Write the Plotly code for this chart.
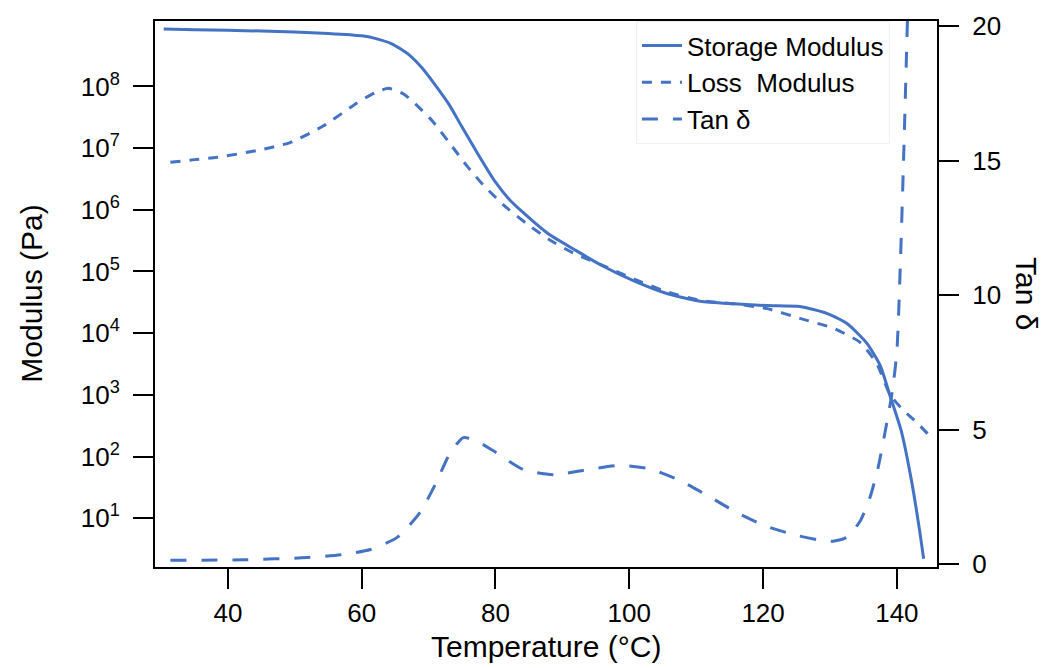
import plotly.graph_objects as go

# ---- data ----
storage_T = [30.4, 35, 40, 45, 50, 55, 60, 62, 64.5, 67, 69, 71, 73, 75, 77.5, 80, 82, 84.2, 88, 92,
             95.6, 100.6, 105.6, 110.6, 115.6, 120.6, 125.5, 129.5, 132.5, 135.5, 137.5, 139.0,
             140.7, 142.2, 143.4, 144.0]
storage_G = [8.5e8, 8.3e8, 8.1e8, 7.9e8, 7.6e8, 7.2e8, 6.6e8, 6.0e8, 4.9e8, 3.3e8, 2.0e8, 1.05e8,
             5.2e7, 2.2e7, 7.6e6, 2.8e6, 1.5e6, 8.9e5, 4.0e5, 2.2e5,
             1.3e5, 7.1e4, 4.4e4, 3.3e4, 3.0e4, 2.8e4, 2.7e4, 2.1e4, 1.45e4, 6.9e3, 3.0e3, 950,
             250, 40, 6.3, 2.2]

loss_T = [31.4, 35, 38.4, 44.3, 49.3, 54.3, 59.3, 62, 64, 66.2, 68, 70.5, 73, 75.7, 78.2, 81.7,
          85, 88, 92, 96, 100.6, 105.6, 110.6, 115.6, 120.6, 125.5, 130.5, 134.5, 137, 139,
          141, 143, 145.2]
loss_G = [5.9e6, 6.5e6, 7.1e6, 9.1e6, 1.23e7, 2.3e7, 5.4e7, 7.9e7, 9.3e7, 7.6e7, 5.2e7, 2.8e7,
          1.26e7, 5.2e6, 2.5e6, 1.07e6, 5.6e5, 3.3e5, 1.9e5, 1.26e5, 7.6e4, 4.7e4, 3.4e4, 3.0e4,
          2.5e4, 1.74e4, 1.2e4, 7.1e3, 3.2e3, 1.0e3, 560, 355, 200]

tan_T = [31.4, 42.3, 51.8, 57.3, 61.3, 65.3, 68.7, 71.0, 73.2, 75.2, 77.2, 79.5, 84.2, 88.9, 93.7,
         98.6, 103.1, 107.6, 111.8, 116.1, 120.3, 125.1, 128.3, 130.5, 132.5, 134.5, 136.0,
         137.2, 138.3, 139.3, 140.0, 140.5, 141.0, 141.5, 142.0]
tan_d = [0.15, 0.17, 0.25, 0.37, 0.55, 1.0, 1.92, 2.97, 4.13, 4.71, 4.58, 4.25, 3.52, 3.33, 3.52,
         3.68, 3.55, 3.11, 2.54, 1.92, 1.43, 1.07, 0.91, 0.86, 1.0, 1.6, 2.5,
         3.6, 5.0, 6.4, 7.9, 11.0, 15.0, 19.5, 24.0]

x_ticks = [40, 60, 80, 100, 120, 140]
y_ticks = [1e1, 1e2, 1e3, 1e4, 1e5, 1e6, 1e7, 1e8]
y_ticktext = ["10<sup>%d</sup>" % n for n in range(1, 9)]
y2_ticks = [0, 5, 10, 15, 20]

BLUE = "#4472C4"
FONT = "Liberation Sans, Arial, sans-serif"

fig = go.Figure()
fig.add_trace(go.Scatter(x=storage_T, y=storage_G, mode="lines", name="Storage Modulus",
                         line=dict(color=BLUE, width=3, shape="spline", smoothing=0.6)))
fig.add_trace(go.Scatter(x=loss_T, y=loss_G, mode="lines", name="Loss\u00a0 Modulus",
                         line=dict(color=BLUE, width=3, dash="10px,9px", shape="spline", smoothing=0.6)))
fig.add_trace(go.Scatter(x=tan_T, y=tan_d, mode="lines", name="Tan δ", yaxis="y2",
                         line=dict(color=BLUE, width=3, dash="16px,15px", shape="spline", smoothing=0.6)))

axis_common = dict(showline=True, linecolor="black", linewidth=2, ticks="outside", ticklen=20,
                   tickwidth=2, tickcolor="black", showgrid=False, zeroline=False,
                   tickfont=dict(family=FONT, size=26, color="black"))

fig.update_layout(
    width=1055, height=668,
    margin=dict(l=155, r=118, t=14, b=101),
    paper_bgcolor="white", plot_bgcolor="white",
    font=dict(family=FONT, color="black"),
    showlegend=True,
    legend=dict(x=0.615, y=1.0, xanchor="left", yanchor="top",
                bgcolor="white", bordercolor="#f0f0f0", borderwidth=1,
                font=dict(family=FONT, size=26, color="black"),
                tracegroupgap=0, itemwidth=40),
    xaxis=dict(range=[29.1, 146.0], tickvals=x_ticks, mirror=True, ticklabelstandoff=2,
               **axis_common),
    yaxis=dict(type="log", range=[0.21, 9.06], tickvals=y_ticks, ticktext=y_ticktext,
               ticklabelstandoff=8, **axis_common),
    yaxis2=dict(overlaying="y", side="right", range=[-0.1, 20.2], tickvals=y2_ticks,
                ticklabelstandoff=8, **axis_common),
    annotations=[
        dict(text="Temperature (°C)", xref="paper", yref="paper", x=0.5, y=-0.1465,
             xanchor="center", yanchor="middle", showarrow=False,
             font=dict(family=FONT, size=30, color="black")),
        dict(text="Modulus (Pa)", xref="paper", yref="paper", x=-0.159, y=0.5,
             xanchor="center", yanchor="middle", textangle=-90, showarrow=False,
             font=dict(family=FONT, size=30, color="black")),
        dict(text="Tan δ", xref="paper", yref="paper", x=1.115, y=0.5,
             xanchor="center", yanchor="middle", textangle=90, showarrow=False,
             font=dict(family=FONT, size=30, color="black")),
    ],
)

fig.write_html(
    "out.html",
    config={"displayModeBar": False},
    post_script="document.body.style.margin='0';document.body.style.overflow='hidden';",
)
